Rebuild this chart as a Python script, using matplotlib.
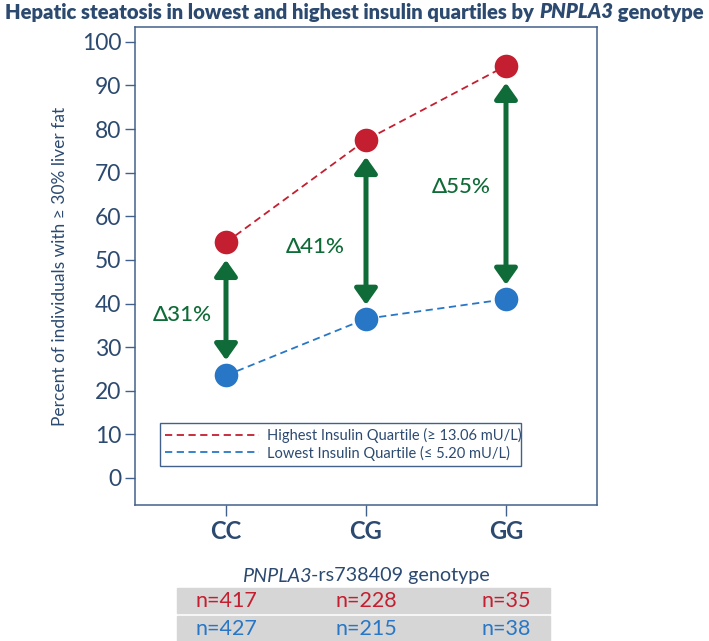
import matplotlib
matplotlib.use("Agg")
import matplotlib.pyplot as plt
from matplotlib.patches import Rectangle
from matplotlib.transforms import blended_transform_factory

# values
genotypes = ["CC", "CG", "GG"]
highest_pct = [54.0, 77.5, 94.5]
lowest_pct = [23.5, 36.5, 41.0]
arrow_top = [50.0, 73.6, 90.6]
arrow_bottom = [27.0, 39.7, 44.3]
delta_labels = ["\u039431%", "\u039441%", "\u039455%"]
delta_label_pos = [(-0.31, 37.4), (-0.36, 53.0), (-0.32, 66.7)]
n_highest = [417, 228, 35]
n_lowest = [427, 215, 38]
yticks = list(range(0, 101, 10))

navy = "#2c4a70"
spine_col = "#42618a"
red = "#c41f30"
blue = "#2777c6"
green = "#0f6b37"
gray = "#d6d6d6"

plt.rcParams["font.family"] = ["Lato", "DejaVu Sans"]

fig = plt.figure(figsize=(7.09, 6.41), dpi=100)
ax = fig.add_axes([135 / 709, 1 - 505 / 641, 462 / 709, 478 / 641])

x = range(len(genotypes))
ax.plot(x, highest_pct, ls="--", dashes=(4, 2.5), lw=1.3, color=red,
        label="Highest Insulin Quartile (\u2265 13.06 mU/L)")
ax.plot(x, lowest_pct, ls="--", dashes=(4, 2.5), lw=1.3, color=blue,
        label="Lowest Insulin Quartile (\u2264 5.20 mU/L)")
ax.plot(x, highest_pct, "o", ms=17, color=red, mec="none")
ax.plot(x, lowest_pct, "o", ms=17, color=blue, mec="none")

for i in x:
    ax.annotate("", xy=(i, arrow_bottom[i]), xytext=(i, arrow_top[i]),
                arrowprops=dict(arrowstyle="<|-|>,head_length=0.48,head_width=0.34",
                                lw=3.6, color=green, mutation_scale=20,
                                shrinkA=0, shrinkB=0))
    dx, dy = delta_label_pos[i]
    ax.text(i + dx, dy, delta_labels[i], color=green, fontsize=16,
            fontweight="medium", ha="center", va="center")

ax.set_xlim(-0.65, 2.65)
ax.set_ylim(-6.2, 103.4)
ax.set_yticks(yticks)
ax.set_xticks(list(x))
ax.set_xticklabels(genotypes, fontsize=17, fontweight="bold", color=navy)
ax.tick_params(axis="y", labelsize=16.5, labelcolor=navy, color=spine_col,
               length=7, width=1, pad=3)
ax.tick_params(axis="x", color=spine_col, length=8, width=1, pad=3)
for s in ax.spines.values():
    s.set_color(spine_col)
    s.set_linewidth(1.1)

ax.set_ylabel("Percent of individuals with \u2265 30% liver fat", fontsize=12.5,
              color=navy, labelpad=10)

leg = ax.legend(loc="lower left", bbox_to_anchor=(0.039, 0.067, 0.812, 0.1),
                mode="expand", fontsize=10.5, handlelength=6.4, handletextpad=0.6,
                fancybox=False, edgecolor=spine_col, framealpha=1,
                borderpad=0.35, labelspacing=0.15, labelcolor=navy)
leg.get_frame().set_linewidth(1)


def rich_text(parts, y, **kw):
    # draw a line of text made of differently styled pieces, centered at x
    xc = kw.pop("x", 0.5)
    r = fig.canvas.get_renderer()
    texts = [fig.text(0, y, s, va="center", **kw, **st) for s, st in parts]
    widths = [t.get_window_extent(r).width for t in texts]
    total = sum(widths)
    pos = xc * fig.bbox.width - total / 2
    for t, w in zip(texts, widths):
        t.set_x(pos / fig.bbox.width)
        pos += w


rich_text([("Hepatic steatosis in lowest and highest insulin quartiles by ", {}),
           ("PNPLA3", {"style": "italic"}),
           (" genotype", {})],
          1 - 12 / 641, fontsize=14.6, fontweight="heavy", color=navy)

axc = (ax.get_position().x0 + ax.get_position().x1) / 2
rich_text([("PNPLA3", {"style": "italic"}), ("-rs738409 genotype", {})],
          1 - 576 / 641, x=axc, fontsize=14.2, color=navy)

# sample size table
fig.patches.append(Rectangle((177 / 709, 1 - 613 / 641), 373 / 709, 25 / 641,
                             transform=fig.transFigure, color=gray, zorder=0))
fig.patches.append(Rectangle((177 / 709, 0), 373 / 709, 25 / 641,
                             transform=fig.transFigure, color=gray, zorder=0))
tr = blended_transform_factory(ax.transData, fig.transFigure)
for i in x:
    fig.text(i, 1 - 601 / 641, "n=%d" % n_highest[i], transform=tr, ha="center",
             va="center", fontsize=15.5, color=red)
    fig.text(i, 1 - 629 / 641, "n=%d" % n_lowest[i], transform=tr, ha="center",
             va="center", fontsize=15.5, color=blue)

fig.savefig("out.png", dpi=100)
